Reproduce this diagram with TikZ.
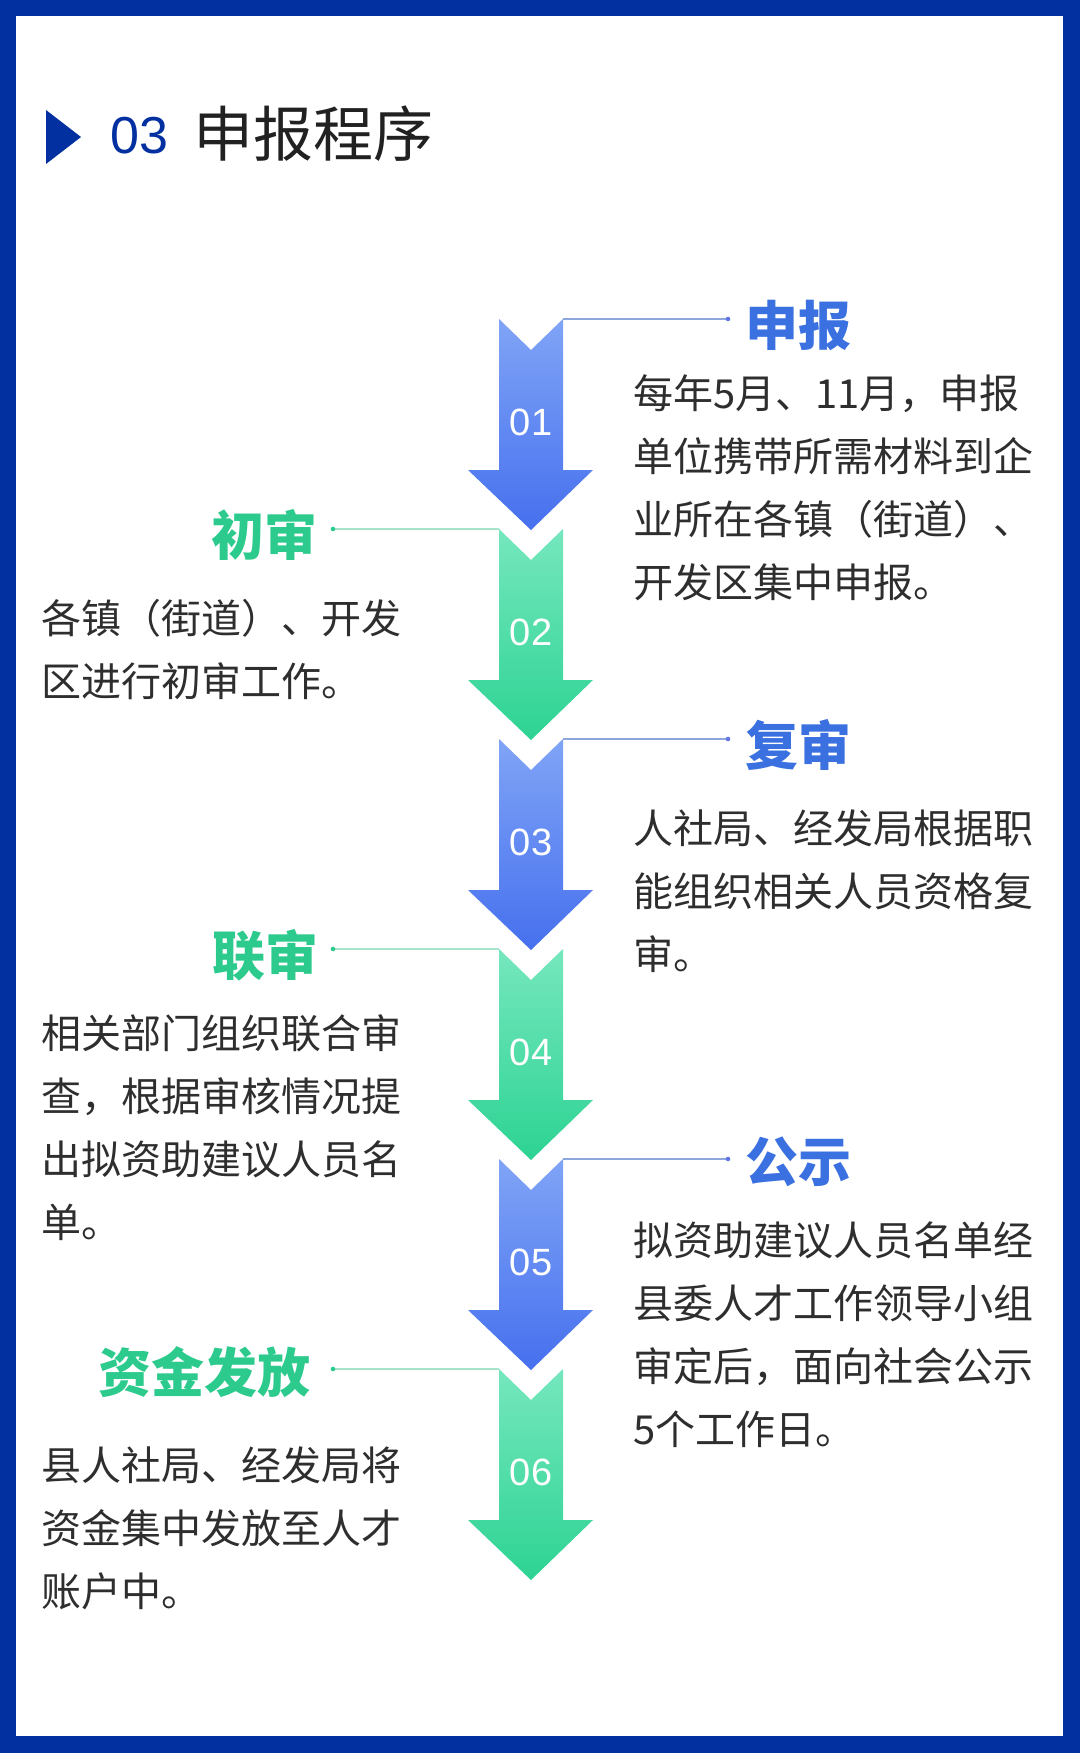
\documentclass[tikz,border=0pt]{standalone}
\usepackage{fontspec}
\setmainfont{Noto Sans CJK SC}
\newfontfamily\numfont{Liberation Sans}
\definecolor{frameblue}{HTML}{0330A0}
\definecolor{bluetop}{HTML}{80A4F6}
\definecolor{bluebot}{HTML}{4670EE}
\definecolor{greentop}{HTML}{76E7BE}
\definecolor{greenbot}{HTML}{2DD393}
\definecolor{headblue}{HTML}{3A70E0}
\definecolor{headgreen}{HTML}{2CCB8D}
\definecolor{lineblue}{HTML}{8EA6DC}
\definecolor{linegreen}{HTML}{A6E5CB}
\definecolor{textgray}{HTML}{2E2E2E}
\newcommand\flowarrow[4]{%
  \shade[#3] (499,#2) -- (531,#2+31) -- (563,#2) -- (563,#2+151) -- (593,#2+151)
     -- (531,#2+211) -- (468,#2+151) -- (499,#2+151) -- cycle;
  \node[numlabel] (#1) at (531,#2+103) {#4};
  \coordinate (#1tl) at (499,#2);
  \coordinate (#1tr) at (563,#2);
}
\begin{document}
\begin{tikzpicture}[x=1pt,y=-1pt,
  bluearrow/.style={top color=bluetop, bottom color=bluebot},
  greenarrow/.style={top color=greentop, bottom color=greenbot},
  numlabel/.style={inner sep=0, text=white, font=\numfont\fontsize{38}{38}\selectfont},
  headR/.style={anchor=west, inner sep=0, text=headblue, font=\bfseries\fontsize{53}{53}\selectfont},
  headL/.style={anchor=east, inner sep=0, text=headgreen, font=\bfseries\fontsize{53}{53}\selectfont},
  bodytext/.style={anchor=base west, inner sep=0, text width=440pt, align=left, text=textgray, font=\fontsize{40}{63}\selectfont},
  leaderR/.style={draw=lineblue, line width=1.2pt},
  leaderL/.style={draw=linegreen, line width=1.2pt}]
\useasboundingbox (0,0) rectangle (1080,1753);
% frame
\fill[frameblue] (0,0) rectangle (1080,1753);
\fill[white] (16,16) rectangle (1063,1736);
% header
\fill[frameblue] (46,110) -- (81,137) -- (46,164) -- cycle;
\node[anchor=west, inner sep=0, text=frameblue, font=\numfont\fontsize{52}{52}\selectfont] (hnum) at (110,136) {03};
\node[anchor=west, inner sep=0, text=black!87, font=\fontsize{60}{60}\selectfont] (htitle) at (193,134) {申报程序};
% arrows
\flowarrow{a1}{319}{bluearrow}{01}
\flowarrow{a2}{529}{greenarrow}{02}
\flowarrow{a3}{739}{bluearrow}{03}
\flowarrow{a4}{949}{greenarrow}{04}
\flowarrow{a5}{1159}{bluearrow}{05}
\flowarrow{a6}{1369}{greenarrow}{06}
% dots and leaders
\coordinate (d1) at (728,319);
\coordinate (d3) at (728,739);
\coordinate (d5) at (728,1159);
\coordinate (d2) at (333,529);
\coordinate (d4) at (333,949);
\coordinate (d6) at (333,1369);
\draw[leaderR] (a1tr) -- (d1);
\draw[leaderR] (a3tr) -- (d3);
\draw[leaderR] (a5tr) -- (d5);
\draw[leaderL] (a2tl) -- (d2);
\draw[leaderL] (a4tl) -- (d4);
\draw[leaderL] (a6tl) -- (d6);
\fill[lineblue!70!blue] (d1) circle (2.3) (d3) circle (2.3) (d5) circle (2.3);
\fill[headgreen] (d2) circle (2.3) (d4) circle (2.3) (d6) circle (2.3);
% headings
\node[headR] (h1) at (745,325) {申报};
\node[headR] (h3) at (745,745) {复审};
\node[headR] (h5) at (745,1162) {公示};
\node[headL] (h2) at (318,535) {初审};
\node[headL] (h4) at (319,955) {联审};
\node[headL] (h6) at (311,1372) {资金发放};
% body texts
\node[bodytext] (b1) at (633,408) {每年5月、11月，申报\\单位携带所需材料到企\\业所在各镇（街道）、\\开发区集中申报。};
\node[bodytext] (b3) at (633,843) {人社局、经发局根据职\\能组织相关人员资格复\\审。};
\node[bodytext] (b5) at (633,1255) {拟资助建议人员名单经\\县委人才工作领导小组\\审定后，面向社会公示\\5个工作日。};
\node[bodytext] (b2) at (41,633) {各镇（街道）、开发\\区进行初审工作。};
\node[bodytext] (b4) at (41,1048) {相关部门组织联合审\\查，根据审核情况提\\出拟资助建议人员名\\单。};
\node[bodytext] (b6) at (41,1480) {县人社局、经发局将\\资金集中发放至人才\\账户中。};
\end{tikzpicture}
\end{document}
